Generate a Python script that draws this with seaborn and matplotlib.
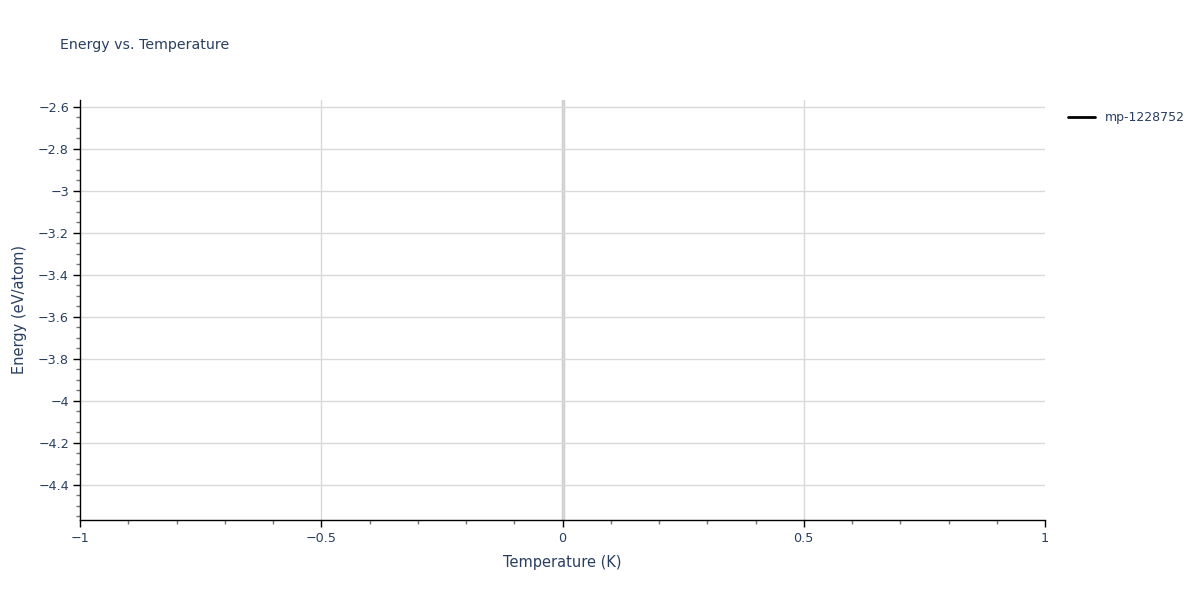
import matplotlib
matplotlib.use("Agg")
import matplotlib.pyplot as plt
import seaborn as sns
import pandas as pd
from matplotlib.ticker import MultipleLocator, FuncFormatter

# one material, one temperature point
MATERIAL = "mp-1228752"
temperatures = [0.0]
energies = [-3.567]

TEXT = "#2a3f5f"
GRID = "#d9d9d9"

df = pd.DataFrame({"Temperature": temperatures, "Energy": energies})

sns.set_style("white")
plt.rcParams["font.family"] = ["DejaVu Sans"]

fig = plt.figure(figsize=(12, 6), dpi=100)
ax = fig.add_axes([80 / 1200, 80 / 600, 965 / 1200, 420 / 600])

sns.lineplot(data=df, x="Temperature", y="Energy", color="black",
             linewidth=2, label=MATERIAL, ax=ax)

# plotly-like autorange for a single point: +-1 around the value
ax.set_xlim(min(temperatures) - 1, max(temperatures) + 1)
ax.set_ylim(min(energies) - 1, max(energies) + 1)

ax.xaxis.set_major_locator(MultipleLocator(0.5))
ax.xaxis.set_minor_locator(MultipleLocator(0.1))
ax.yaxis.set_major_locator(MultipleLocator(0.2))
ax.yaxis.set_minor_locator(MultipleLocator(0.05))


def fmt(v, pos):
    s = f"{v:.2f}".rstrip("0").rstrip(".")
    if s in ("-0", "0"):
        return "0"
    return s.replace("-", "\u2212")


ax.xaxis.set_major_formatter(FuncFormatter(fmt))
ax.yaxis.set_major_formatter(FuncFormatter(fmt))

ax.grid(True, which="major", color=GRID, linewidth=1)
ax.axvline(0, color="#cccccc", linewidth=2.5, zorder=0.5)
fig.canvas.draw()
# no grid line sitting on the right edge
for gl, loc in zip(ax.get_xgridlines(), ax.get_xticks()):
    if abs(loc) >= 1:
        gl.set_visible(False)

for side in ("top", "right"):
    ax.spines[side].set_visible(False)
for side in ("left", "bottom"):
    ax.spines[side].set_color("black")
    ax.spines[side].set_linewidth(1)

ax.tick_params(axis="both", which="both", bottom=True, left=True)
ax.tick_params(axis="both", which="major", direction="out", length=5, width=1,
               color="black", labelcolor=TEXT, labelsize=9.2)
ax.tick_params(axis="both", which="minor", direction="out", length=3, width=1,
               color="#777777")
ax.tick_params(axis="x", which="major", pad=4)
ax.tick_params(axis="y", which="major", pad=3)

ax.set_xlabel("Temperature (K)", color=TEXT, fontsize=10.5, labelpad=7)
ax.set_ylabel("Energy (eV/atom)", color=TEXT, fontsize=10.5, labelpad=8)

fig.text(60 / 1200, 1 - 45 / 600, "Energy vs. Temperature", color=TEXT,
         fontsize=10.2, va="center", ha="left")

leg = ax.legend(loc="upper left", bbox_to_anchor=(1.012, 1.0), frameon=False,
                handlelength=2.2, fontsize=9)
for t in leg.get_texts():
    t.set_color(TEXT)

fig.savefig("out.png", dpi=100)
